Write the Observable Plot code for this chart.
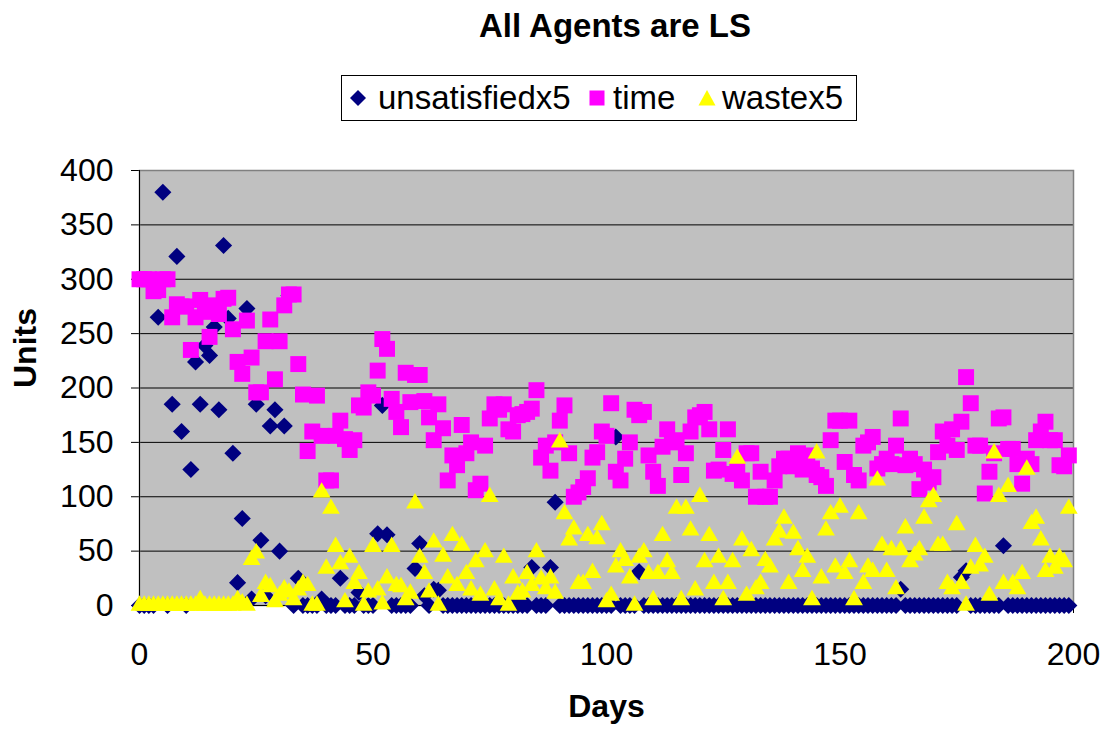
<!DOCTYPE html>
<html>
<head>
<meta charset="utf-8">
<script src="https://cdn.jsdelivr.net/npm/d3@7"></script>
<script src="https://cdn.jsdelivr.net/npm/@observablehq/plot@0.6"></script>
<style>
  body { margin: 0; background: #fff; font-family: "Liberation Sans", Arial, sans-serif; }
  #wrap { position: relative; width: 1110px; height: 731px; overflow: hidden; }
  #title { position: absolute; left: 615px; top: 7px; transform: translateX(-50%); font-size: 33px; font-weight: bold; line-height: 38px; white-space: nowrap; }
  #legend { position: absolute; left: 341px; top: 75px; width: 516px; height: 46px; border: 1px solid #000; box-sizing: border-box; font-size: 33px; white-space: nowrap; }
  #legend .sym { position: absolute; top: 13px; line-height: 0; }
  #legend .sym svg { display: block; }
  #legend .lab { position: absolute; top: 3px; line-height: 38px; }
  #chart { position: absolute; left: 0; top: 150px; }
</style>
</head>
<body>
<div id="wrap">
  <div id="title">All Agents are LS</div>
  <div id="legend"></div>
  <div id="chart"></div>
</div>
<script>
const seriesNames = ["unsatisfiedx5", "time", "wastex5"];
const seriesColors = ["#000080", "#FF00FF", "#FFFF00"];
const yTicks = [0, 50, 100, 150, 200, 250, 300, 350, 400];
const xTicks = [0, 50, 100, 150, 200];

const unsatisfied = [
  0,0,0,0,265,380,0,185,321,160,
  0,125,224,185,239,230,256,180,331,264,
  140,21,80,273,6,185,60,9,165,180,
  50,165,285,0,25,0,0,0,0,6,
  0,0,0,25,0,0,0,12,0,0,
  0,66,184,65,0,0,0,0,0,34,
  57,9,0,15,14,0,0,0,0,0,
  0,0,0,0,0,0,0,0,0,0,
  0,0,0,0,35,0,0,0,35,95,
  0,0,0,0,0,0,0,0,0,0,
  0,0,155,0,0,0,0,31,0,0,
  0,0,0,0,0,0,0,0,0,0,
  0,0,0,0,0,0,0,0,0,0,
  0,0,0,0,0,0,0,0,0,0,
  0,0,0,0,0,0,0,0,0,0,
  0,0,0,0,0,0,0,0,0,0,
  0,0,0,15,0,0,0,0,0,0,
  0,0,0,0,0,0,26,32,0,0,
  0,0,0,0,0,55,0,0,0,0,
  0,0,0,0,0,0,0,0,0,0
];

const time = [
  300,300,300,289,290,300,300,265,277,275,
  275,235,265,281,270,247,276,268,282,283,
  254,224,213,262,228,196,196,243,263,208,
  243,276,286,286,222,194,142,160,193,156,
  115,115,156,170,153,143,152,184,182,196,
  193,216,245,236,190,178,164,214,187,212,
  212,188,173,152,185,163,115,138,129,166,
  140,150,106,112,147,172,185,180,185,162,
  160,175,176,178,181,198,136,147,124,150,
  170,184,140,100,104,109,117,136,141,160,
  156,186,123,115,135,150,180,175,178,138,
  123,110,146,162,150,152,120,140,160,173,
  175,178,162,124,125,143,162,121,125,115,
  140,140,100,123,100,100,115,128,135,135,
  128,140,125,138,126,120,118,110,152,170,
  170,132,170,120,115,147,150,155,126,130,
  135,130,147,172,129,135,130,107,125,113,
  118,141,160,147,162,143,169,210,186,147,
  147,103,123,140,172,173,144,144,130,112,
  135,130,152,160,169,152,152,129,128,138
];

const waste = [
  0,0,0,0,0,0,0,0,0,0,
  0,0,0,5,0,0,0,0,0,0,
  0,5,2,0,42,48,8,20,17,3,
  9,15,12,5,14,20,18,0,0,104,
  34,89,54,38,3,44,20,29,0,12,
  54,14,1,25,54,18,17,5,11,94,
  44,29,12,58,0,45,25,64,18,55,
  29,14,40,9,49,100,14,5,44,0,
  25,10,12,29,18,49,24,15,25,11,
  150,84,60,70,20,20,64,30,61,74,
  3,9,35,49,41,25,0,44,49,29,
  5,29,64,40,29,89,5,89,69,14,
  100,40,64,20,44,5,20,40,135,60,
  9,50,15,20,41,35,60,67,80,20,
  66,51,31,44,5,140,25,69,84,35,
  90,29,40,5,84,20,35,31,115,55,
  31,51,15,51,71,40,46,51,80,95,
  100,55,55,20,15,74,20,0,34,54,
  36,44,9,140,100,20,109,20,15,29,
  125,75,80,60,31,44,34,44,40,89
];

const days = unsatisfied.map((_, i) => i);
const rowsU = days.map(d => ({day: d, value: unsatisfied[d]}));
const rowsT = days.map(d => ({day: d, value: time[d]}));
const rowsW = days.map(d => ({day: d, value: waste[d]}));

// Legend (HTML)
const legendSymbols = [
  `<svg width="18" height="18" viewBox="-9 -9 18 18"><path d="M0,-8L8,0L0,8L-8,0Z" fill="${seriesColors[0]}"/></svg>`,
  `<svg width="18" height="18" viewBox="-9 -9 18 18"><rect x="-7.5" y="-7.5" width="15" height="15" fill="${seriesColors[1]}"/></svg>`,
  `<svg width="18" height="18" viewBox="-9 -9 18 18"><path d="M0,-8L8.5,7.5L-8.5,7.5Z" fill="${seriesColors[2]}"/></svg>`
];
const legendSymX = [7, 246, 356];
const legendLabX = [36, 271, 380];
const legend = document.getElementById("legend");
seriesNames.forEach((name, i) => {
  const s = document.createElement("div");
  s.className = "sym";
  s.style.left = legendSymX[i] + "px";
  s.innerHTML = legendSymbols[i];
  legend.appendChild(s);
  const l = document.createElement("div");
  l.className = "lab";
  l.style.left = legendLabX[i] + "px";
  l.textContent = name;
  legend.appendChild(l);
});

const plot = Plot.plot({
  width: 1110,
  height: 581,
  marginTop: 20,
  marginBottom: 126,
  marginLeft: 139,
  marginRight: 37,
  style: {fontFamily: "'Liberation Sans', Arial, sans-serif", fontSize: "32px", color: "#000", background: "transparent"},
  x: {domain: [0, 200]},
  y: {domain: [0, 400]},
  marks: [
    Plot.frame({fill: "#C0C0C0", stroke: null}),
    Plot.gridY(yTicks, {stroke: "#000", strokeOpacity: 1, strokeWidth: 1}),
    Plot.axisY(yTicks, {tickSize: 8, tickPadding: 18, label: null, fontSize: 32, stroke: "#000"}),
    Plot.axisX(xTicks, {tickSize: 8, tickPadding: 29, label: null, fontSize: 32, stroke: "#000"}),
    Plot.frame({stroke: "#808080", strokeWidth: 1.5}),
    Plot.ruleX([0], {stroke: "#000"}),
    Plot.ruleY([0], {stroke: "#000"}),
    Plot.text(["Units"], {text: d => d, frameAnchor: "left", dx: -114, rotate: -90, fontWeight: "bold", fontSize: 32, fill: "#000"}),
    Plot.text(["Days"], {text: d => d, frameAnchor: "bottom", dy: 111, fontWeight: "bold", fontSize: 32, fill: "#000"}),
    Plot.dot(rowsU, {x: "day", y: "value", symbol: "diamond2", r: 7.7, fill: seriesColors[0], stroke: "none"}),
    Plot.dot(rowsT, {x: "day", y: "value", symbol: "square", r: 9, fill: seriesColors[1], stroke: "none"}),
    Plot.dot(rowsW, {x: "day", y: "value", symbol: "triangle", r: 6.6, fill: seriesColors[2], stroke: "none"})
  ]
});
document.getElementById("chart").appendChild(plot);
</script>
</body>
</html>
